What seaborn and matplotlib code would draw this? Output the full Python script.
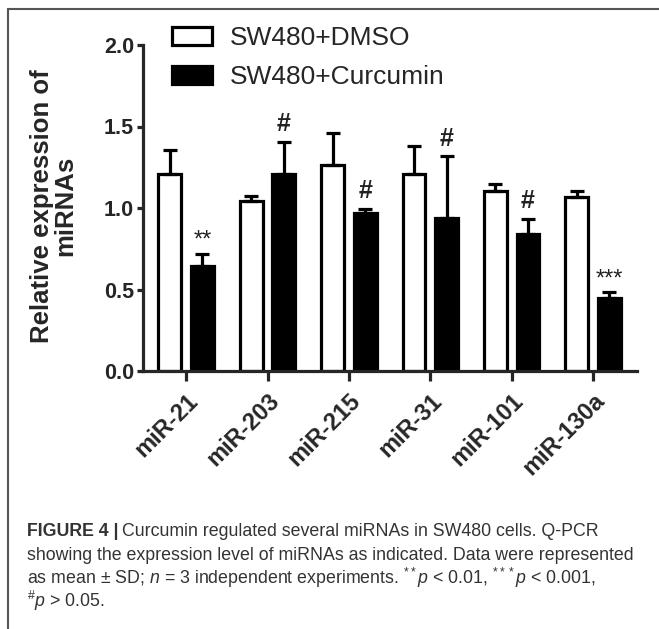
import seaborn as sns
import pandas as pd
import matplotlib.pyplot as plt
from matplotlib.lines import Line2D

# values
mirnas = ['miR-21', 'miR-203', 'miR-215', 'miR-31', 'miR-101', 'miR-130a']
groups = ['SW480+DMSO', 'SW480+Curcumin']
dmso_mean = [1.206, 1.041, 1.265, 1.206, 1.102, 1.067]
dmso_sd = [0.147, 0.030, 0.194, 0.176, 0.045, 0.037]
curc_mean = [0.645, 1.208, 0.971, 0.937, 0.841, 0.445]
curc_sd = [0.075, 0.198, 0.023, 0.379, 0.092, 0.037]
curc_marks = ['**', '#', '#', '#', '#', '***']

df = pd.DataFrame({
    'miRNA': mirnas * 2,
    'group': [groups[0]] * 6 + [groups[1]] * 6,
    'value': dmso_mean + curc_mean,
})

sns.set_style('ticks')
plt.rcParams['font.family'] = ['Liberation Sans', 'DejaVu Sans']
plt.rcParams['mathtext.fontset'] = 'custom'
plt.rcParams['mathtext.rm'] = 'Liberation Sans'
plt.rcParams['mathtext.it'] = 'Liberation Sans:italic'

W, H = 659, 629
fig = plt.figure(figsize=(W / 100, H / 100), dpi=100)
ax = fig.add_axes([143 / W, 1 - 371 / H, 494 / W, 326 / H])

sns.barplot(data=df, x='miRNA', y='value', hue='group', order=mirnas,
            hue_order=groups, palette={groups[0]: 'white', groups[1]: 'black'},
            edgecolor='black', linewidth=2.3, width=0.8, gap=0.3,
            errorbar=None, ax=ax)

# upper-only SD bars
for cont, sd in zip(ax.containers, [dmso_sd, curc_sd]):
    xs = [b.get_x() + b.get_width() / 2 for b in cont]
    ys = [b.get_height() for b in cont]
    ax.errorbar(xs, ys, yerr=[[0] * len(sd), sd], fmt='none', ecolor='black',
                elinewidth=2.3, capsize=5, capthick=2.3, zorder=1)

# significance marks above the curcumin bars
xs = [b.get_x() + b.get_width() / 2 for b in ax.containers[1]]
for x, m, s, mk in zip(xs, curc_mean, curc_sd, curc_marks):
    if mk == '#':
        ax.text(x, m + s + 0.035, mk, ha='center', va='bottom', fontsize=18,
                fontweight='bold', color='#222222')
    else:
        ax.text(x, m + s + 0.01, mk, ha='center', va='bottom', fontsize=17,
                color='#222222')

ax.set_ylim(0, 2.0)
ax.set_xlim(-0.53, 5.54)
ax.set_yticks([0, 0.5, 1.0, 1.5, 2.0])
ax.set_yticklabels(['0.0', '0.5', '1.0', '1.5', '2.0'], fontsize=15.5, fontweight='bold')
ax.set_xticks(range(6))
ax.set_xticklabels(mirnas, rotation=45, ha='right', va='top', rotation_mode='anchor',
                   fontsize=17, fontweight='bold')
ax.set_xlabel('')
ax.set_ylabel('')
sns.despine(ax=ax)
for sp in ['left', 'bottom']:
    ax.spines[sp].set_linewidth(2.3)
ax.tick_params(axis='y', width=2.3, length=4.5, pad=2)
ax.tick_params(axis='x', width=2.3, length=7, pad=6)

fig.text(54 / W, 1 - 206 / H, 'Relative expression of\nmiRNAs', rotation=90,
         ha='center', va='center', multialignment='center', fontsize=18.5,
         fontweight='bold', linespacing=0.95)

handles, labels = ax.get_legend_handles_labels()
ax.legend(handles, labels, loc='upper left', bbox_to_anchor=(172 / W, 1 - 26 / H),
          bbox_transform=fig.transFigure, frameon=False, fontsize=19,
          handlelength=1.5, handleheight=0.65, handletextpad=0.68,
          labelspacing=0.58, borderpad=0, borderaxespad=0)

# figure frame (top and left)
fig.add_artist(Line2D([8 / W, 1], [1 - 9 / H, 1 - 9 / H], color='#555555', lw=1.5))
fig.add_artist(Line2D([8 / W, 8 / W], [0, 1 - 9 / H], color='#555555', lw=1.5))

# caption
cap_kw = dict(fontsize=12.8, color='#333333', va='center', ha='left')
x0 = 27 / W
t = fig.text(x0, 1 - 532 / H, 'FIGURE 4 |', fontweight='bold', **cap_kw)
fig.canvas.draw()
bb = t.get_window_extent()
fig.text(bb.x1 / W + 4 / W, 1 - 532 / H,
         'Curcumin regulated several miRNAs in SW480 cells. Q-PCR', **cap_kw)
fig.text(x0, 1 - 555 / H,
         'showing the expression level of miRNAs as indicated. Data were represented', **cap_kw)
fig.text(x0, 1 - 578 / H,
         r'as mean $\pm$ SD; $n$ = 3 independent experiments. $^{**}p$ < 0.01, $^{***}p$ < 0.001,',
         **cap_kw)
fig.text(x0, 1 - 601 / H, r'$^{\#}p$ > 0.05.', **cap_kw)

fig.savefig('out.png', dpi=100)
